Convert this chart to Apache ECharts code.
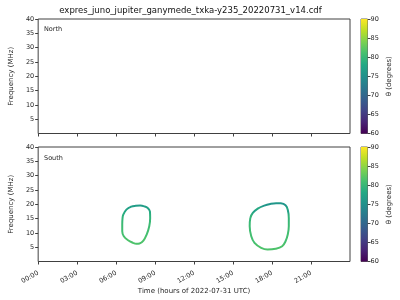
<!DOCTYPE html>
<html>
<head>
<meta charset="utf-8">
<script src="https://cdn.jsdelivr.net/npm/echarts@6/dist/echarts.min.js"></script>
<style>html,body{margin:0;padding:0;background:#fff}#c{width:400px;height:300px}</style>
</head>
<body>
<div id="c"></div>
<script>
// ---- data ----
const titleText = 'expres_juno_jupiter_ganymede_txka-y235_20220731_v14.cdf';
const xTicks = [0, 3, 6, 9, 12, 15, 18, 21];
const yTicks = [5, 10, 15, 20, 25, 30, 35, 40];
const thetaTicks = [60, 65, 70, 75, 80, 85, 90];
const thetaRange = [60, 90];
// North panel: no emission
const northTime = [];
const northFreq = [];
const northTheta = [];
// South panel, loop 1 (hours, MHz, degrees)
const south1Time  = [6.79, 7.17, 7.51, 7.85, 8.17, 8.43, 8.60, 8.62, 8.55, 8.35, 8.10, 7.80, 7.55, 7.30, 6.92, 6.59, 6.47, 6.47, 6.49, 6.55];
const south1Freq  = [18.12, 19.17, 19.45, 19.52, 19.27, 18.72, 17.53, 15.23, 12.30, 9.41, 7.32, 6.27, 6.17, 6.52, 7.42, 8.82, 10.56, 12.90, 14.99, 16.38];
const south1Theta = [77, 76, 75.5, 75.5, 76, 76.5, 77.5, 79.5, 80.5, 81, 81.5, 81.5, 81.5, 81.5, 81.5, 81.5, 81, 80.5, 79.5, 78.5];
// South panel, loop 2 (hours, MHz, degrees)
const south2Time  = [16.52, 16.90, 17.40, 17.86, 18.31, 18.68, 19.04, 19.21, 19.29, 19.29, 19.21, 19.04, 18.78, 18.28, 17.65, 17.16, 16.65, 16.40, 16.28, 16.33];
const south2Freq  = [16.97, 18.47, 19.52, 20.11, 20.39, 20.32, 19.62, 18.12, 15.23, 12.30, 9.41, 7.08, 5.33, 4.43, 4.18, 4.78, 6.52, 8.82, 12.30, 15.23];
const south2Theta = [77, 76, 75.5, 75.5, 75.5, 76, 77, 78.5, 80, 80.5, 81, 81, 81.5, 81.5, 81.5, 81.5, 81.5, 81, 80.5, 79.5];

// ---- viridis ----
const VIR = ['#440154','#482475','#414487','#355f8d','#2a788e','#21918c','#22a884','#44bf70','#7ad151','#bddf26','#fde725'];
function hex2rgb(h){return [parseInt(h.substr(1,2),16),parseInt(h.substr(3,2),16),parseInt(h.substr(5,2),16)];}
function viridis(t){
  t = Math.max(0, Math.min(1, t));
  const p = t * (VIR.length - 1), i = Math.min(Math.floor(p), VIR.length - 2), f = p - i;
  const a = hex2rgb(VIR[i]), b = hex2rgb(VIR[i+1]);
  return 'rgb(' + a.map((v,k)=>Math.round(v + (b[k]-v)*f)).join(',') + ')';
}
function thetaColor(th){return viridis((th - thetaRange[0])/(thetaRange[1]-thetaRange[0]));}

function loopSeries(times, freqs, thetas){
  const pts = times.map((t,i)=>[t, freqs[i], thetas[i]]);
  const n = pts.length;
  // closed loop: wrap neighbours so every vertex gets a smooth tangent
  const data = [pts[n-1]].concat(pts, [pts[0], pts[1]]);
  const fmax = Math.max.apply(null, freqs), fmin = Math.min.apply(null, freqs);
  const stops = freqs.map((f,i)=>({offset:(fmax-f)/(fmax-fmin), color:thetaColor(thetas[i])}))
                     .sort((a,b)=>a.offset-b.offset);
  return {
    type:'line', xAxisIndex:1, yAxisIndex:1, data:data, smooth:0.4, showSymbol:false,
    symbol:'none', silent:true,
    lineStyle:{width:2, color:new echarts.graphic.LinearGradient(0,0,0,1,stops)}
  };
}

const FONT = 'DejaVu Sans';
const TXT = '#262626';
const AX = '#404040';
const panelTops = [19, 147];
const panelH = 114.5;

function xAxisFor(i, withLabels){
  return {
    type:'value', gridIndex:i, min:0, max:24,
    axisLine:{show:false}, splitLine:{show:false},
    axisTick:{show:true, length:3, lineStyle:{color:AX}, customValues:xTicks},
    axisLabel:{show:withLabels, customValues:xTicks, rotate:30, fontSize:6.5, fontFamily:FONT, color:TXT, margin:7,
      align:'right', verticalAlign:'top', padding:[0,2,0,0], formatter:v=>(v<10?'0':'')+v+':00'},
    name: withLabels ? 'Time (hours of 2022-07-31 UTC)' : '',
    nameLocation:'middle', nameGap:25,
    nameTextStyle:{fontSize:7, fontFamily:FONT, color:TXT}
  };
}
function yAxisFor(i){
  return {
    type:'value', gridIndex:i, min:0, max:40,
    axisLine:{show:false}, splitLine:{show:false},
    axisTick:{show:true, length:3, lineStyle:{color:AX}, customValues:yTicks},
    axisLabel:{customValues:yTicks, fontSize:6.5, fontFamily:FONT, color:TXT, margin:4},
    name:'Frequency (MHz)', nameLocation:'middle', nameGap:19, nameRotate:90,
    nameTextStyle:{fontSize:7, fontFamily:FONT, color:TXT}
  };
}
function cbXAxis(i){
  return {type:'category', gridIndex:i, data:['θ'], show:false};
}
function cbYAxis(i){
  return {
    type:'value', gridIndex:i, min:thetaRange[0], max:thetaRange[1], position:'right',
    axisLine:{show:false}, splitLine:{show:false},
    axisTick:{show:true, length:3, lineStyle:{color:AX}, customValues:thetaTicks},
    axisLabel:{customValues:thetaTicks, fontSize:6.5, fontFamily:FONT, color:TXT, margin:3},
    name:'θ (degrees)', nameLocation:'middle', nameGap:18, nameRotate:90,
    nameTextStyle:{fontSize:7, fontFamily:FONT, color:TXT}
  };
}
function cbSeries(i){
  const stops = VIR.map((c,k)=>({offset:k/(VIR.length-1), color:c}));
  return [
    {type:'bar', xAxisIndex:i, yAxisIndex:i, stack:'cb'+i, data:[thetaRange[0]], barWidth:'100%',
     itemStyle:{color:'rgba(0,0,0,0)'}, silent:true},
    {type:'bar', xAxisIndex:i, yAxisIndex:i, stack:'cb'+i, data:[thetaRange[1]-thetaRange[0]], barWidth:'100%',
     itemStyle:{color:new echarts.graphic.LinearGradient(0,1,0,0,stops)}, silent:true}
  ];
}

const chart = echarts.init(document.getElementById('c'), null, {renderer:'canvas'});
const grids = [
  {left:32, top:panelTops[0], width:318, height:panelH, show:true, borderColor:AX, borderWidth:1, backgroundColor:'transparent'},
  {left:32, top:panelTops[1], width:318, height:panelH, show:true, borderColor:AX, borderWidth:1, backgroundColor:'transparent'},
  {left:361, top:panelTops[0], width:6.5, height:panelH, show:true, borderColor:AX, borderWidth:0.8},
  {left:361, top:panelTops[1], width:6.5, height:panelH, show:true, borderColor:AX, borderWidth:0.8}
];
chart.setOption({
  animation:false,
  backgroundColor:'#ffffff',
  grid:grids,
  xAxis:[xAxisFor(0,false), xAxisFor(1,true), cbXAxis(2), cbXAxis(3)],
  yAxis:[yAxisFor(0), yAxisFor(1), cbYAxis(2), cbYAxis(3)],
  graphic:[
    {type:'text', x:190.5, y:11, style:{text:titleText, fontSize:8.5, fontFamily:FONT, fill:'#111', align:'center', verticalAlign:'middle'}},
    {type:'text', x:44, y:29.5, style:{text:'North', fontSize:6.5, fontFamily:FONT, fill:TXT, align:'left', verticalAlign:'middle'}},
    {type:'text', x:44, y:158, style:{text:'South', fontSize:6.5, fontFamily:FONT, fill:TXT, align:'left', verticalAlign:'middle'}}
  ],
  series:[
    {type:'line', xAxisIndex:0, yAxisIndex:0, data:northTime.map((t,i)=>[t,northFreq[i],northTheta[i]]), showSymbol:false},
    loopSeries(south1Time, south1Freq, south1Theta),
    loopSeries(south2Time, south2Freq, south2Theta)
  ].concat(cbSeries(2), cbSeries(3))
});
</script>
</body>
</html>
